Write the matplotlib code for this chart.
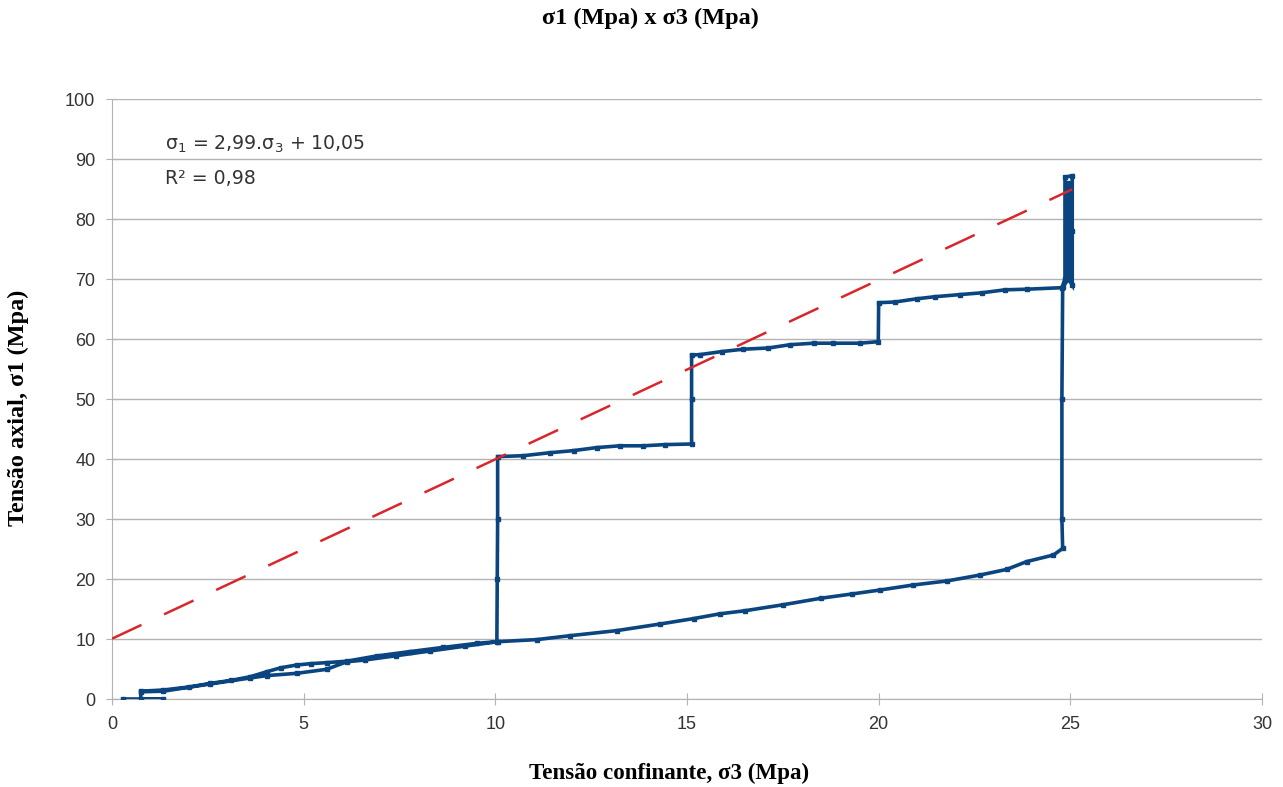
import numpy as np
import matplotlib.pyplot as plt

# Stress path (sigma3, sigma1), in MPa
sigma3 = [0.28, 1.32, 0.75, 0.75, 1.34, 2.0, 2.56, 3.1, 3.6, 4.04, 4.4, 4.82, 5.2, 5.6,
          6.12, 6.9, 7.77, 8.64, 9.51, 10.04,
          10.05, 10.06, 10.06,
          10.73, 11.43, 12.04, 12.64, 13.25, 13.86, 14.43, 15.12,
          15.12, 15.12, 15.34, 15.9, 16.47, 17.12, 17.69, 18.3, 18.8, 19.5, 19.99,
          20.0, 20.43, 20.99, 21.47, 22.12, 22.69, 23.3, 23.86, 24.78,
          24.86, 24.86, 25.05, 25.05, 25.05, 24.95, 24.95, 24.95, 24.8,
          24.78, 24.78, 24.8, 24.56, 23.86, 23.34, 22.65, 21.78, 20.9, 20.04,
          19.3, 18.5, 17.5, 16.5, 15.86, 15.17, 14.3, 13.17, 11.95, 11.08, 10.06,
          9.2, 8.3, 7.4, 6.6, 6.12, 5.6, 4.82, 4.04, 3.6, 2.56, 1.34, 0.75]
sigma1 = [0.0, 0.0, 0.0, 1.3, 1.5, 2.0, 2.6, 3.1, 3.7, 4.55, 5.2, 5.67, 5.9, 6.06,
          6.3, 7.17, 7.9, 8.6, 9.27, 9.55,
          20.0, 30.0, 40.4,
          40.55, 41.05, 41.4, 41.9, 42.2, 42.2, 42.4, 42.5,
          50.0, 57.33, 57.4, 57.9, 58.3, 58.5, 59.05, 59.3, 59.3, 59.3, 59.55,
          66.05, 66.17, 66.7, 67.05, 67.4, 67.7, 68.2, 68.3, 68.55,
          70.0, 87.0, 87.2, 78.0, 69.0, 70.0, 86.0, 70.0, 68.6,
          50.0, 30.0, 25.1, 24.0, 22.9, 21.6, 20.67, 19.67, 19.0, 18.17,
          17.5, 16.8, 15.7, 14.7, 14.2, 13.4, 12.5, 11.4, 10.55, 9.9, 9.55,
          8.8, 8.0, 7.2, 6.5, 6.2, 4.95, 4.28, 3.9, 3.5, 2.5, 1.3, 1.2]

# Linear trend shown on the chart
slope = 2.99
intercept = 10.05

plt.rcParams['mathtext.fontset'] = 'dejavusans'

fig = plt.figure(figsize=(12.83, 7.87), dpi=100)
ax = fig.add_axes([112 / 1283, 88 / 787, 1150 / 1283, 600 / 787])

ax.plot(sigma3, sigma1, color='#0a4580', linewidth=2.6, marker='s', markersize=3.4,
        solid_joinstyle='miter', zorder=3)

xt = np.array([0, max(sigma3)])
ax.plot(xt, slope * xt + intercept, color='#d9262b', linewidth=1.8,
        dashes=(13, 10), zorder=4)

ax.set_xlim(0, 30)
ax.set_ylim(0, 100)
ax.set_xticks(range(0, 31, 5))
ax.set_yticks(range(0, 101, 10))
ax.yaxis.grid(True, color='#b3b3b3', linewidth=1)
ax.set_axisbelow(True)
for side in ['top', 'right']:
    ax.spines[side].set_visible(False)
for side in ['left', 'bottom']:
    ax.spines[side].set_color('#b3b3b3')
ax.tick_params(direction='inout', length=8, color='#b3b3b3', labelsize=13,
               labelcolor='#333333')
ax.tick_params(axis='y', pad=8)
ax.tick_params(axis='x', pad=8)
for lbl in ax.get_xticklabels() + ax.get_yticklabels():
    lbl.set_fontfamily('Liberation Sans')

ax.text(0.046, 0.925, r'σ$_1$ = 2,99.σ$_3$ + 10,05', transform=ax.transAxes,
        fontsize=13.6, color='#333333', family='DejaVu Sans', va='center')
ax.text(0.046, 0.868, 'R² = 0,98', transform=ax.transAxes,
        fontsize=13.6, color='#333333', family='DejaVu Sans', va='center')

fig.text(0.5066, 0.977, 'σ1 (Mpa) x σ3 (Mpa)', ha='center', va='center',
         family='Liberation Serif', fontweight='bold', fontsize=17.5)
fig.text(0.5214, 0.0178, 'Tensão confinante, σ3 (Mpa)', ha='center', va='center',
         family='Liberation Serif', fontweight='bold', fontsize=16.6)
fig.text(0.014, 0.4816, 'Tensão axial, σ1 (Mpa)', ha='center', va='center',
         rotation=90, family='Liberation Serif', fontweight='bold', fontsize=17.5)

fig.savefig('out.png', dpi=100)
